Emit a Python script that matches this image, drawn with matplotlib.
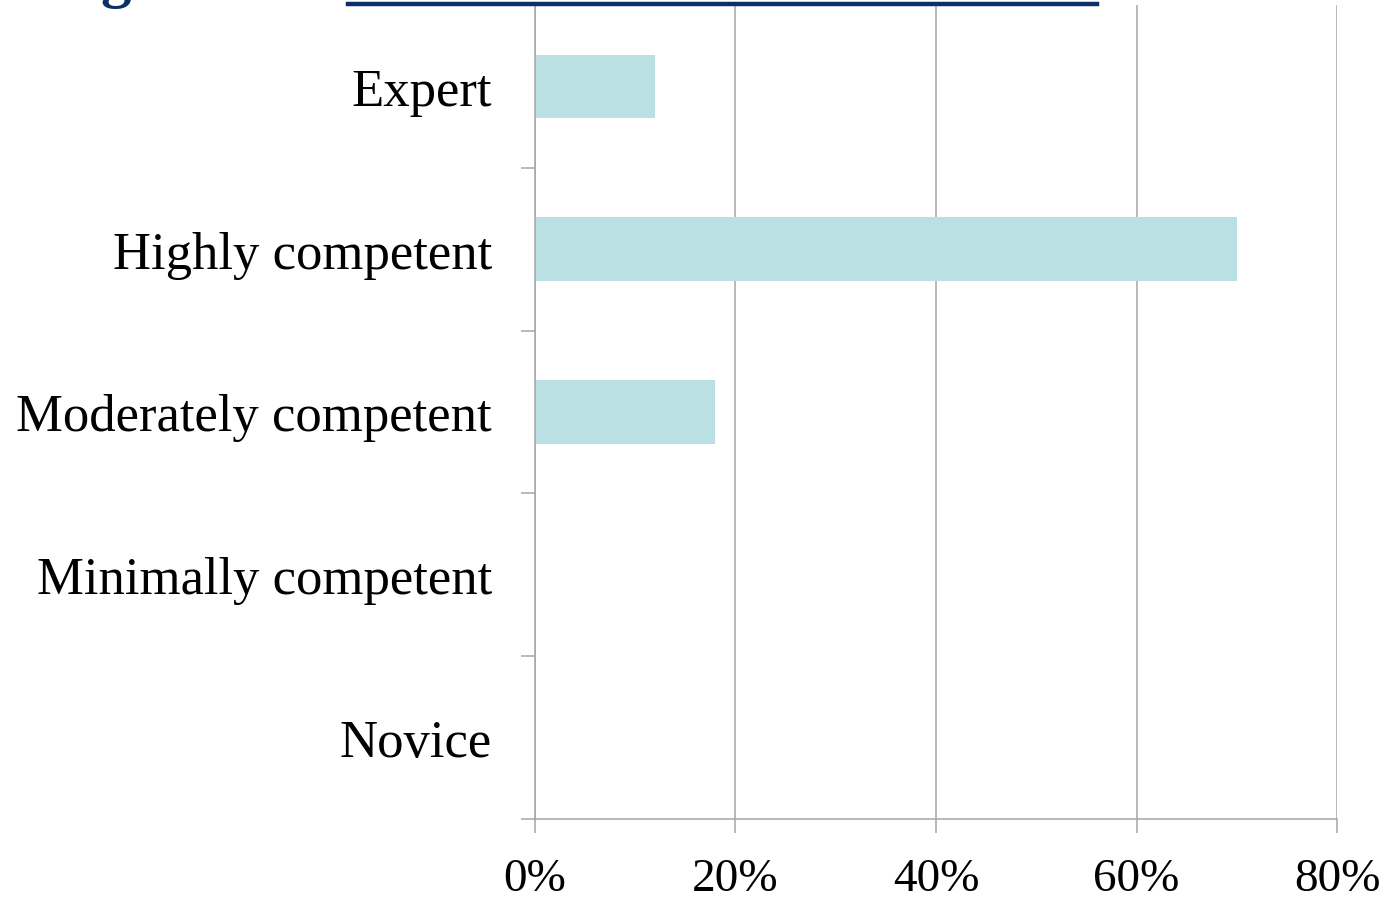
import matplotlib
matplotlib.use("Agg")
import matplotlib.pyplot as plt
from matplotlib.lines import Line2D
from matplotlib.ticker import FuncFormatter

# Self-rated competence levels, share of respondents
levels = ["Novice", "Minimally competent", "Moderately competent",
          "Highly competent", "Expert"]
shares = [0, 0, 18, 70, 12]
xticks = [0, 20, 40, 60, 80]

plt.rcParams["font.family"] = ["Liberation Serif", "DejaVu Serif"]

fig = plt.figure(figsize=(13.88, 9.03), dpi=100)
ax = fig.add_axes([0.3854, 0.0919, 0.9633 - 0.3854, 0.9934 - 0.0919])

grey = "#a6a6a6"
ax.barh(range(len(levels)), shares, height=0.39, color="#bbe0e3", zorder=2)

ax.set_xlim(0, 80)
ax.set_ylim(-0.5, len(levels) - 0.5)
ax.set_xticks(xticks)
ax.xaxis.set_major_formatter(FuncFormatter(lambda v, p: f"{v:.0f}%"))
ax.set_yticks(range(len(levels)))
ax.set_yticklabels(levels)
# category ticks sit between the bars
ax.set_yticks([i - 0.5 for i in range(len(levels) + 1)], minor=True)
ax.tick_params(axis="y", which="major", length=0, pad=31, labelsize=38)
ax.tick_params(axis="y", which="minor", length=10, width=1.1, color=grey,
               direction="out")
ax.tick_params(axis="x", length=10, width=1.1, color=grey, direction="out",
               pad=18, labelsize=34)

ax.grid(axis="x", color=grey, linewidth=1.1, zorder=0)
for side in ["top", "right"]:
    ax.spines[side].set_visible(False)
for side in ["left", "bottom"]:
    ax.spines[side].set_color(grey)
    ax.spines[side].set_linewidth(1.1)

# title rule and the tail of the heading above the chart
fig.add_artist(Line2D([348 / 1388, 1097 / 1388], [1 - 5 / 903, 1 - 5 / 903],
                      color="#0b3068", linewidth=3.2))
fig.text(0.072, 1.0 + 4 / 903, "g", color="#0b3068", fontsize=44,
         fontweight="bold", va="baseline")

fig.savefig("out.png", dpi=100)
